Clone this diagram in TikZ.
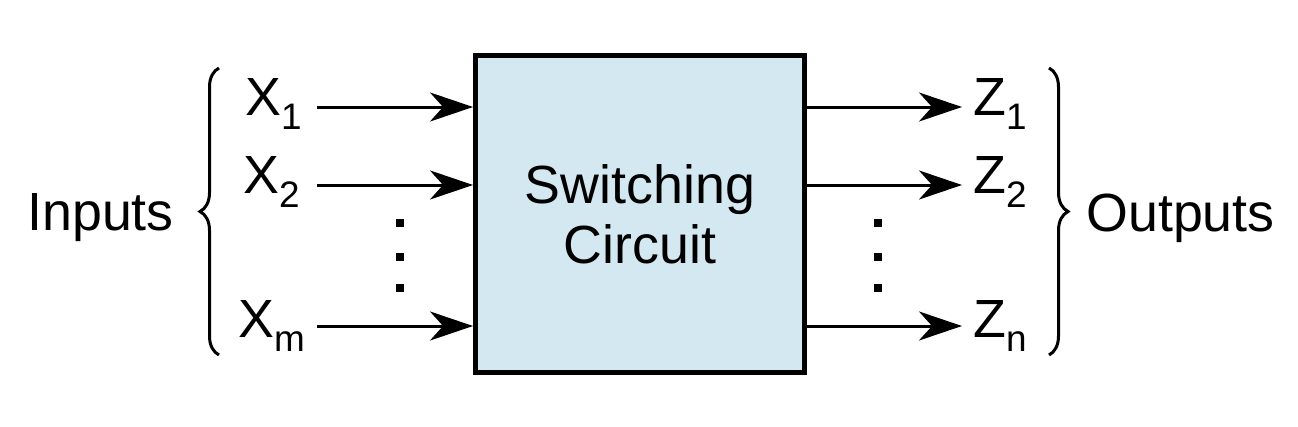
\documentclass[tikz,border=0pt]{standalone}
\usepackage{fontspec}
\setmainfont{Liberation Sans}
\usepackage{xcolor}
\usetikzlibrary{arrows.meta,positioning,decorations.pathreplacing}
\definecolor{circuitblue}{HTML}{D3E8F0}
\newcommand{\lowsub}[1]{\raisebox{-8.5pt}{\fontsize{21}{24}\selectfont #1}}

\begin{document}
\begin{tikzpicture}[
    x=0.02cm, y=-0.02cm,
    lbl/.style={inner sep=0pt, font=\fontsize{30.6}{34}\selectfont},
    circuit/.style={rectangle, draw, line width=0.1cm, fill=circuitblue, minimum width=6.58cm, minimum height=6.34cm, align=center, font=\fontsize{30.6}{34}\selectfont},
    arrow/.style={-{Stealth[length=0.86cm, width=0.58cm, inset=0.26cm]}, line width=0.06cm},
    bracket/.style={decorate, decoration={brace, amplitude=0.38cm}, line width=0.06cm}
]
    \useasboundingbox (0,0) rectangle (1298,426);

    \node[circuit] (box) at (640,214) {Switching\\Circuit};

    % inputs
    \node[lbl, anchor=base west] (x1) at (245,115) {X\lowsub{1}};
    \node[lbl, anchor=base west] (x2) at (243,193) {X\lowsub{2}};
    \node[lbl, anchor=base west] (xm) at (238,337) {X\lowsub{m}};
    \node[lbl, anchor=base west] (inputs) at (27,230) {Inputs};
    \coordinate (x1s) at (317,107);
    \coordinate (x2s) at (317,185);
    \coordinate (xms) at (317,326);
    \draw[arrow] (x1s) -- (x1s -| box.west);
    \draw[arrow] (x2s) -- (x2s -| box.west);
    \draw[arrow] (xms) -- (xms -| box.west);

    % outputs
    \node[lbl, anchor=base west] (z1) at (973,115) {Z\lowsub{1}};
    \node[lbl, anchor=base west] (z2) at (973,193) {Z\lowsub{2}};
    \node[lbl, anchor=base west] (zn) at (973,337) {Z\lowsub{n}};
    \node[lbl, anchor=base west] (outputs) at (1086,231) {Outputs};
    \coordinate (z1e) at (962,107);
    \coordinate (z2e) at (962,185);
    \coordinate (zne) at (962,326);
    \draw[arrow] (z1e -| box.east) -- (z1e);
    \draw[arrow] (z2e -| box.east) -- (z2e);
    \draw[arrow] (zne -| box.east) -- (zne);

    % braces
    \draw[bracket] (219,355) -- (219,68);
    \draw[bracket] (1049,68) -- (1049,355);

    % dots
    \foreach \y in {223,257,288} {
        \fill (396,\y-4) rectangle (404,\y+4);
        \fill (874,\y-4) rectangle (882,\y+4);
    }
\end{tikzpicture}
\end{document}
